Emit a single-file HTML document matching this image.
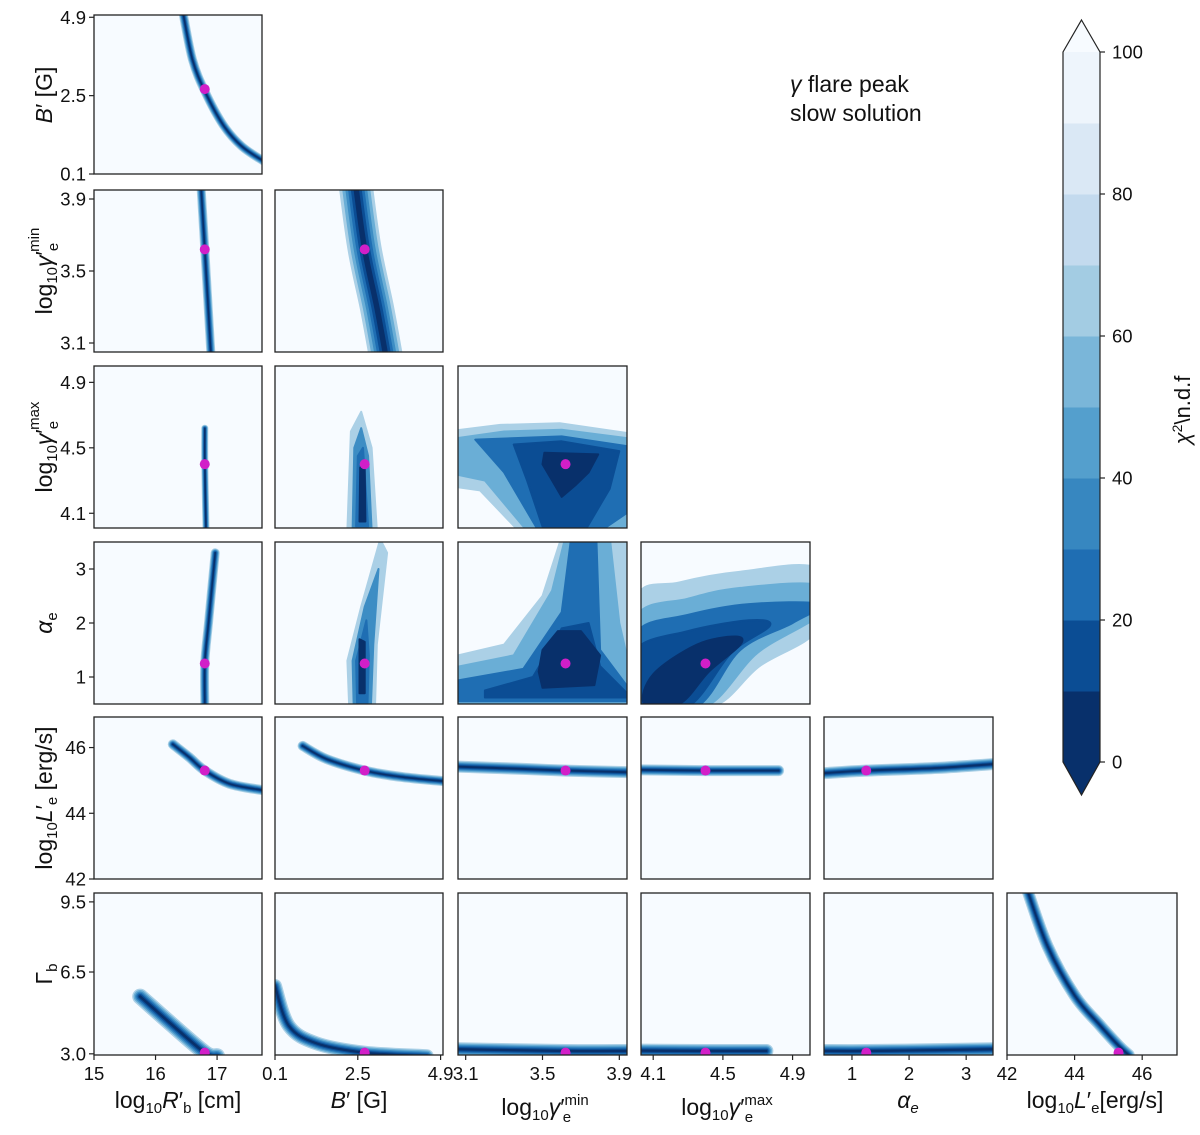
<!DOCTYPE html>
<html><head><meta charset="utf-8"><style>
html,body{margin:0;padding:0;background:#fff;}
svg{display:block;font-family:"Liberation Sans","DejaVu Sans",sans-serif;}
</style></head><body>
<svg id="fig" width="1200" height="1135" viewBox="0 0 1200 1135" xmlns="http://www.w3.org/2000/svg"></svg>
<script>
// ---- data ----
const varNames = ["R","B","gmin","gmax","alpha","L","Gamma"];
const bestFit = [16.8, 2.7, 3.62, 4.4, 1.25, 45.3, 3.05];
const xTicks = [[15,16,17],[0.1,2.5,4.9],[3.1,3.5,3.9],[4.1,4.5,4.9],[1,2,3],[42,44,46]];
const xTickLabels = [["15","16","17"],["0.1","2.5","4.9"],["3.1","3.5","3.9"],["4.1","4.5","4.9"],["1","2","3"],["42","44","46"]];
const yTicks = [[0.1,2.5,4.9],[3.1,3.5,3.9],[4.1,4.5,4.9],[1,2,3],[42,44,46],[3.0,6.5,9.5]];
const yTickLabels = [["0.1","2.5","4.9"],["3.1","3.5","3.9"],["4.1","4.5","4.9"],["1","2","3"],["42","44","46"],["3.0","6.5","9.5"]];
const cbTicks = [0,20,40,60,80,100];
const ridges = {
 "0-0":[[16.45,5.0],[16.6,3.6],[16.8,2.64],[17.1,1.6],[17.4,0.95],[17.75,0.5]],
 "1-0":[[16.74,3.96],[16.8,3.62],[16.9,3.04]],
 "1-1":[[2.45,3.96],[2.7,3.62],[3.05,3.3],[3.3,3.04]],
 "2-0":[[16.8,4.62],[16.8,4.4],[16.82,4.0]],
 "3-0":[[16.97,3.3],[16.86,2.0],[16.8,1.25],[16.8,0.5]],
 "4-0":[[16.28,46.1],[16.55,45.7],[16.8,45.3],[17.2,44.9],[17.75,44.7]],
 "4-1":[[0.9,46.05],[1.6,45.65],[2.7,45.3],[3.8,45.1],[4.97,44.98]],
 "4-2":[[3.05,45.42],[3.4,45.35],[3.62,45.3],[3.95,45.25]],
 "4-3":[[4.02,45.32],[4.4,45.3],[4.82,45.3]],
 "4-4":[[0.5,45.22],[1.25,45.3],[2.5,45.38],[3.5,45.5]],
 "5-0":[[15.75,5.45],[16.2,4.4],[16.8,3.05],[17.0,2.9]],
 "5-1":[[0.1,5.9],[0.5,4.2],[1.3,3.45],[2.7,3.05],[4.5,2.9]],
 "5-2":[[3.05,3.2],[3.62,3.12],[3.95,3.12]],
 "5-3":[[4.02,3.14],[4.4,3.12],[4.75,3.12]],
 "5-4":[[0.5,3.12],[1.25,3.12],[2.5,3.16],[3.5,3.2]],
 "5-5":[[42.6,10.0],[43.2,7.6],[44.0,5.5],[44.7,4.3],[45.3,3.35],[45.6,2.95]]
};
const ridgeWidths = {"0-0":9,"1-0":9,"1-1":34,"2-0":7,"3-0":9,"4-0":10,"4-1":10,"4-2":12,"4-3":11,"4-4":12,
 "5-0":16,"5-1":14,"5-2":14,"5-3":14,"5-4":14,"5-5":12};
const blobs = {
 "2-1":[[[2.2,4.0],[2.3,4.6],[2.6,4.72],[2.9,4.5],[3.05,4.0]],
        [[2.35,4.0],[2.4,4.5],[2.6,4.62],[2.8,4.45],[2.9,4.0]],
        [[2.45,4.02],[2.5,4.45],[2.65,4.5],[2.8,4.02]],
        [[2.55,4.05],[2.57,4.38],[2.7,4.38],[2.72,4.05]]],
 "2-2":[[[3.0,4.60],[3.28,4.64],[3.59,4.65],[4.0,4.58],[4.0,3.95],[3.41,3.95],[3.175,4.24],[3.0,4.27]],
        [[3.0,4.55],[3.3,4.6],[3.6,4.61],[4.0,4.55],[4.0,3.95],[3.45,3.95],[3.2,4.3],[3.0,4.35]],
        [[3.15,4.55],[3.6,4.57],[4.0,4.5],[4.0,4.15],[3.75,3.95],[3.5,3.95],[3.3,4.35]],
        [[3.35,4.52],[3.6,4.54],[3.9,4.48],[3.85,4.25],[3.7,3.95],[3.52,3.95],[3.42,4.3]],
        [[3.51,4.47],[3.79,4.46],[3.74,4.35],[3.67,4.27],[3.6,4.2],[3.55,4.3],[3.5,4.4]]],
 "3-1":[[[2.25,0.45],[2.2,1.3],[2.6,2.3],[3.15,3.55],[3.35,3.3],[3.05,1.6],[3.0,0.45]],
        [[2.38,0.45],[2.35,1.3],[2.7,2.3],[3.1,3.0],[2.95,1.6],[2.88,0.45]],
        [[2.48,0.5],[2.45,1.3],[2.75,2.05],[2.82,1.4],[2.78,0.5]],
        [[2.55,0.7],[2.55,1.7],[2.7,1.65],[2.7,0.7]]],
 "3-2":[[[3.0,1.35],[3.3,1.6],[3.5,2.5],[3.6,3.6],[4.0,3.6],[4.0,0.4],[3.0,0.4]],
        [[3.0,1.15],[3.35,1.4],[3.55,2.6],[3.62,3.6],[3.85,3.6],[3.9,2.0],[4.0,0.45],[3.0,0.45]],
        [[3.0,0.9],[3.4,1.15],[3.6,2.2],[3.65,3.6],[3.78,3.6],[3.8,1.5],[4.0,0.55],[3.0,0.55]],
        [[3.2,0.75],[3.45,1.0],[3.6,1.9],[3.74,2.0],[3.8,1.2],[3.94,0.7],[3.94,0.62],[3.2,0.62]],
        [[3.5,1.5],[3.58,1.85],[3.7,1.85],[3.8,1.4],[3.77,0.85],[3.5,0.8],[3.48,1.1]]],
 "3-3":[[[4.0,2.45],[4.25,2.75],[4.6,2.95],[5.05,3.0],[5.05,1.9],[4.71,1.2],[4.44,0.45],[4.0,0.45]],
        [[4.0,2.1],[4.3,2.45],[4.6,2.65],[5.05,2.7],[5.05,2.15],[4.7,1.45],[4.4,0.45],[4.0,0.45]],
        [[4.0,1.8],[4.3,2.15],[4.65,2.35],[5.05,2.35],[4.9,2.0],[4.6,1.5],[4.35,0.45],[4.0,0.45]],
        [[4.0,1.5],[4.3,1.85],[4.65,2.05],[4.77,1.95],[4.55,1.45],[4.3,0.45],[4.0,0.45]],
        [[4.05,0.5],[4.1,1.05],[4.35,1.6],[4.57,1.75],[4.6,1.6],[4.42,1.1],[4.25,0.5]]]
};
// ---- geometry ----
const colBox = [[94,262],[275,443],[458,627],[641,810],[824,993],[1007,1177]];
const rowBox = [[15,174],[190,352],[366,528],[542,704],[717,879],[893,1055]];
const xRange = [[15,17.73],[0.1,4.97],[3.06,3.94],[4.03,5.0],[0.51,3.47],[42,47.03]];
const yRange = [[0.1,4.97],[3.05,3.95],[4.01,5.0],[0.5,3.5],[42,46.93],[2.95,9.88]];
const shades = ["#d6e6f4","#abd0e6","#6aaed6","#3d8dc4","#1f6eb3","#0b4d94","#08306b"];
const cbColors = ['#08306b','#0b4d94','#1f6eb3','#3787c0','#549fcd','#7ab6d9','#a3cce3','#c3daee','#dae8f5','#eef5fc'];
const NS="http://www.w3.org/2000/svg";
const svg=document.getElementById('fig');
function mk(tag,attrs,parent){const e=document.createElementNS(NS,tag);for(const k in attrs)e.setAttribute(k,attrs[k]);(parent||svg).appendChild(e);return e;}
function sx(c,v){const [a,b]=xRange[c];return colBox[c][0]+(v-a)/(b-a)*(colBox[c][1]-colBox[c][0]);}
function sy(r,v){const [a,b]=yRange[r];return rowBox[r][1]-(v-a)/(b-a)*(rowBox[r][1]-rowBox[r][0]);}
function smooth(P,closed){
  const n=P.length;let d='M'+P[0][0].toFixed(1)+','+P[0][1].toFixed(1);
  const get=i=>closed?P[(i+n)%n]:P[Math.max(0,Math.min(n-1,i))];
  const m=closed?n:n-1;
  for(let i=0;i<m;i++){const p0=get(i-1),p1=get(i),p2=get(i+1),p3=get(i+2);
    const c1=[p1[0]+(p2[0]-p0[0])/6,p1[1]+(p2[1]-p0[1])/6],c2=[p2[0]-(p3[0]-p1[0])/6,p2[1]-(p3[1]-p1[1])/6];
    d+=' C'+c1.map(v=>v.toFixed(1)).join(',')+' '+c2.map(v=>v.toFixed(1)).join(',')+' '+p2.map(v=>v.toFixed(1)).join(',');}
  return closed?d+'Z':d;}
const defs=mk('defs',{});
for(let r=0;r<6;r++){for(let c=0;c<=r;c++){
  const key=r+'-'+c;
  const x0=colBox[c][0],x1=colBox[c][1],y0=rowBox[r][0],y1=rowBox[r][1];
  const cp=mk('clipPath',{id:'cp'+key},defs);mk('rect',{x:x0,y:y0,width:x1-x0,height:y1-y0},cp);
  const g=mk('g',{'clip-path':'url(#cp'+key+')'});
  
  
  mk('rect',{x:x0,y:y0,width:x1-x0,height:y1-y0,fill:'#f7fbff'},g);
  if(blobs[key]){blobs[key].forEach((poly,i)=>{
    const n=blobs[key].length;const ci=Math.round(1+i*(shades.length-2)/(n-1));
    const pts=poly.map(q=>[sx(c,q[0]),sy(r,q[1])]);
    const p=mk('path',{d:key==='3-3'?smooth(pts,true):'M'+pts.map(q=>q[0].toFixed(1)+','+q[1].toFixed(1)).join(' L')+'Z',fill:shades[ci],stroke:shades[ci],'stroke-width':2,'stroke-linejoin':'round'},g);
    
    
  });}
  if(ridges[key]){const pts=ridges[key].map(q=>[sx(c,q[0]),sy(r,q[1])]);
    const d=smooth(pts,false);
    const w=ridgeWidths[key];const f=[1,0.82,0.64,0.48,0.32,0.16];
    f.forEach((k,i)=>{const pl=mk('path',{d:d,fill:'none',stroke:shades[i+1],'stroke-width':Math.max(1.5,w*k),'stroke-linecap':'round','stroke-linejoin':'round'},g);
      
      });
  }
  const dot=mk('circle',{cx:sx(c,bestFit[c]),cy:sy(r,bestFit[r+1]),r:5,fill:'#d21fc8'},g);
  
  
  const fr=mk('rect',{x:x0,y:y0,width:x1-x0,height:y1-y0,fill:'none',stroke:'#222','stroke-width':1.3});
  
  
  if(c===0){yTicks[r].forEach((t,i)=>{const y=sy(r,t);mk('line',{x1:x0-5,x2:x0,y1:y,y2:y,stroke:'#222','stroke-width':1.2});
    const tx=mk('text',{x:x0-8,y:y+6.5,'text-anchor':'end','font-size':18.5,fill:'#111'});tx.textContent=yTickLabels[r][i];
    
    });}
  if(r===5){xTicks[c].forEach((t,i)=>{const x=sx(c,t);mk('line',{x1:x,x2:x,y1:y1,y2:y1+5,stroke:'#222','stroke-width':1.2});
    const tx=mk('text',{x:x,y:y1+25,'text-anchor':'middle','font-size':18.5,fill:'#111'});tx.textContent=xTickLabels[c][i];
    
    });}
}}
// colorbar
const cbX=1063,cbW=37,cbTop=52,cbBot=762;
const cbG=mk('g',{});


cbColors.forEach((col,i)=>{const h=(cbBot-cbTop)/10;mk('rect',{x:cbX,y:cbBot-(i+1)*h,width:cbW,height:h+0.5,fill:col},cbG);});
mk('polygon',{points:`${cbX},${cbBot} ${cbX+cbW},${cbBot} ${cbX+cbW/2},${795}`,fill:'#08306b'},cbG);
mk('polygon',{points:`${cbX},${cbTop} ${cbX+cbW},${cbTop} ${cbX+cbW/2},${20}`,fill:'#f7fbff'},cbG);
mk('polygon',{points:`${cbX+cbW/2},20 ${cbX+cbW},${cbTop} ${cbX+cbW},${cbBot} ${cbX+cbW/2},795 ${cbX},${cbBot} ${cbX},${cbTop}`,fill:'none',stroke:'#222','stroke-width':1.2},cbG);
cbTicks.forEach(t=>{const y=cbBot-t/100*(cbBot-cbTop);mk('line',{x1:cbX+cbW,x2:cbX+cbW+5,y1:y,y2:y,stroke:'#222','stroke-width':1.2},cbG);
  const tx=mk('text',{x:cbX+cbW+12,y:y+6.5,'font-size':18.5,fill:'#111'},cbG);tx.textContent=t;
  
  });
</script>
<svg style="position:absolute;left:0;top:0" width="1200" height="1135">
<g font-family="Liberation Sans, DejaVu Sans, sans-serif" fill="#111">
<text x="790" y="92" font-size="23"><tspan font-style="italic">γ</tspan> flare peak</text>
<text x="790" y="121" font-size="23">slow solution</text>
<text transform="translate(1190,410) rotate(-90)" text-anchor="middle" font-size="22"><tspan font-style="italic">χ</tspan><tspan dy="-8" font-size="14">2</tspan><tspan dy="8">\n.d.f</tspan></text>
<text transform="translate(52,95) rotate(-90)" text-anchor="middle" font-size="23"><tspan font-style="italic">B</tspan>′ [G]</text>
<text transform="translate(52,271) rotate(-90)" text-anchor="middle" font-size="23">log<tspan font-size="15" dy="5">10</tspan><tspan dy="-5" font-style="italic">γ</tspan>′<tspan font-size="15" dy="6">e</tspan><tspan font-size="15" dx="-9" dy="-19">min</tspan></text>
<text transform="translate(52,447) rotate(-90)" text-anchor="middle" font-size="23">log<tspan font-size="15" dy="5">10</tspan><tspan dy="-5" font-style="italic">γ</tspan>′<tspan font-size="15" dy="6">e</tspan><tspan font-size="15" dx="-9" dy="-19">max</tspan></text>
<text transform="translate(52,623) rotate(-90)" text-anchor="middle" font-size="23"><tspan font-style="italic">α</tspan><tspan font-size="15" dy="5">e</tspan></text>
<text transform="translate(52,798) rotate(-90)" text-anchor="middle" font-size="23">log<tspan font-size="15" dy="5">10</tspan><tspan dy="-5" font-style="italic">L</tspan>′<tspan font-size="15" dy="5">e</tspan><tspan dy="-5"> [erg/s]</tspan></text>
<text transform="translate(52,974) rotate(-90)" text-anchor="middle" font-size="23">Γ<tspan font-size="15" dy="5">b</tspan></text>
<text x="178" y="1108" text-anchor="middle" font-size="23">log<tspan font-size="15" dy="5">10</tspan><tspan dy="-5" font-style="italic">R</tspan>′<tspan font-size="15" dy="5">b</tspan><tspan dy="-5"> [cm]</tspan></text>
<text x="359" y="1108" text-anchor="middle" font-size="23"><tspan font-style="italic">B</tspan>′ [G]</text>
<text x="545" y="1115" text-anchor="middle" font-size="23">log<tspan font-size="15" dy="5">10</tspan><tspan dy="-5" font-style="italic">γ</tspan>′<tspan font-size="15" dy="-10">min</tspan><tspan font-size="15" dx="-26" dy="17">e</tspan></text>
<text x="727" y="1115" text-anchor="middle" font-size="23">log<tspan font-size="15" dy="5">10</tspan><tspan dy="-5" font-style="italic">γ</tspan>′<tspan font-size="15" dy="-10">max</tspan><tspan font-size="15" dx="-28" dy="17">e</tspan></text>
<text x="908" y="1108" text-anchor="middle" font-size="23"><tspan font-style="italic">α</tspan><tspan font-size="15" dy="5" font-style="italic">e</tspan></text>
<text x="1095" y="1108" text-anchor="middle" font-size="23">log<tspan font-size="15" dy="5">10</tspan><tspan dy="-5" font-style="italic">L</tspan>′<tspan font-size="15" dy="5">e</tspan><tspan dy="-5">[erg/s]</tspan></text>
</g></svg>
</body></html>
